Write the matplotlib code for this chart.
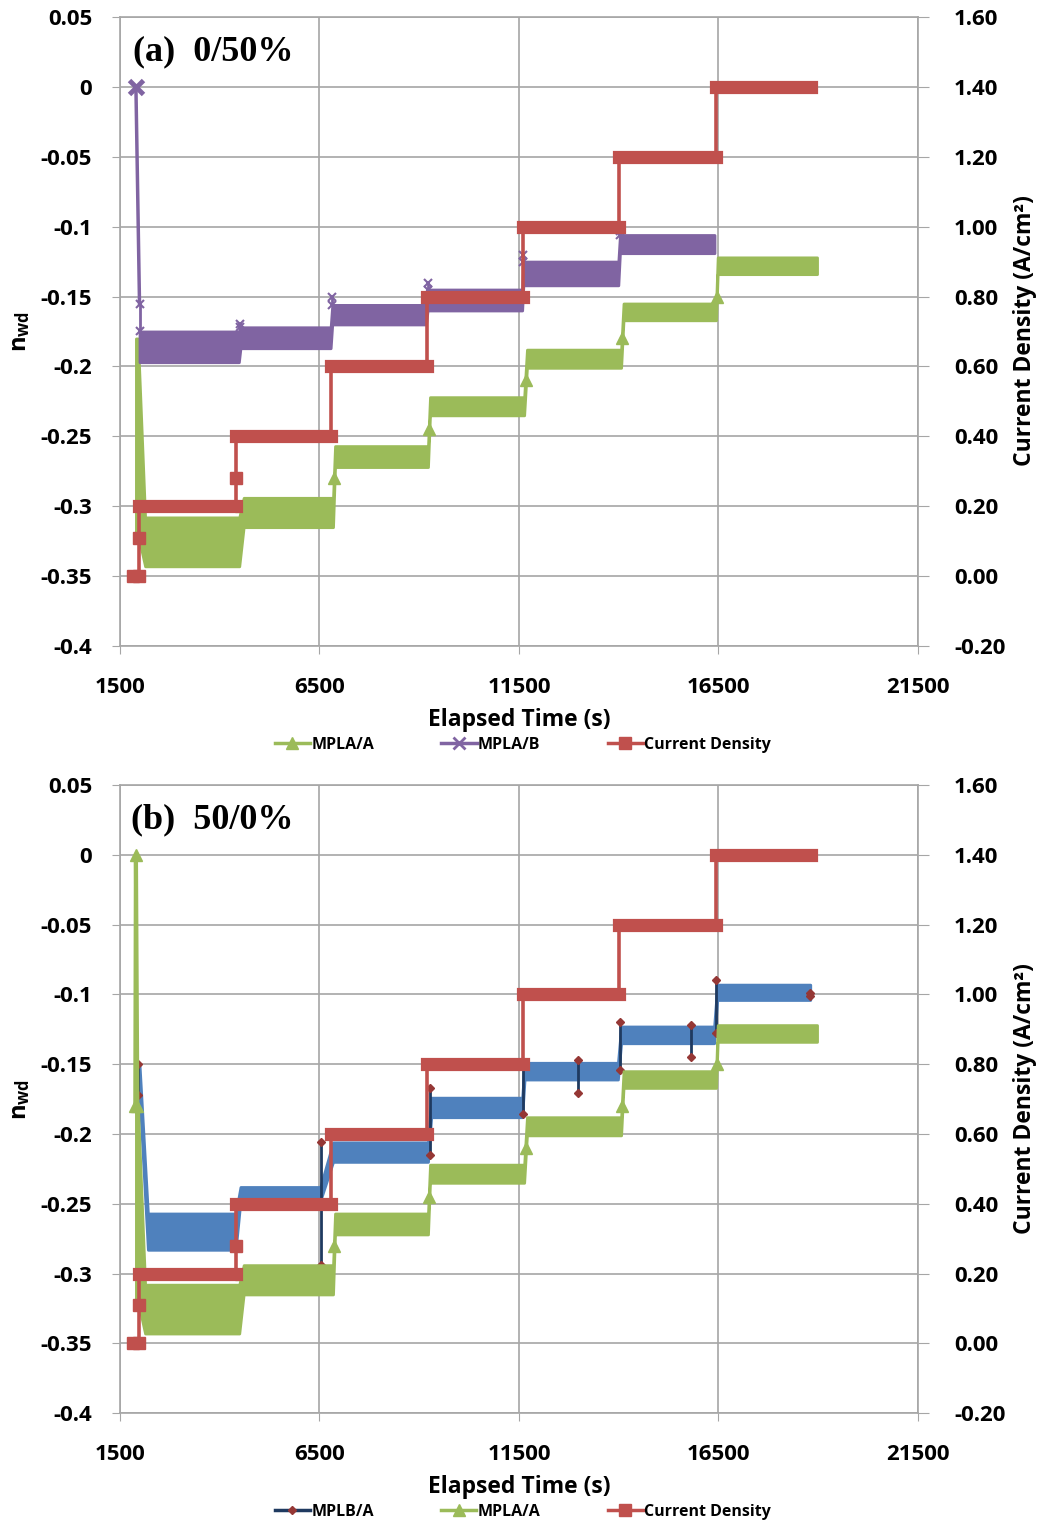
import matplotlib.pyplot as plt
from matplotlib.lines import Line2D

plt.rcParams['font.family'] = ['Open Sans', 'DejaVu Sans']
plt.rcParams['font.weight'] = 'bold'
plt.rcParams['mathtext.fontset'] = 'custom'
plt.rcParams['mathtext.rm'] = 'Open Sans:bold'

GREEN = '#9BBB59'
PURPLE = '#8064A2'
RED = '#C0504D'
BLUE = '#4F81BD'
NAVY = '#1F3A60'
DKRED = '#953735'
GRID = '#A6A6A6'

# current density (A/cm2), identical for both runs
cd_start_t = [1830, 1975, 1975]
cd_start_v = [0.0, 0.0, 0.11]
cd_t0 = [1975, 4410, 6790, 9190, 11600, 14010, 16440]
cd_t1 = [4410, 6790, 9190, 11600, 14010, 16440, 18820]
cd_level = [0.2, 0.4, 0.6, 0.8, 1.0, 1.2, 1.4]
cd_mid_t = [4410]
cd_mid_v = [0.28]

# MPLA/A, band of n_wd per current step (same in both runs)
mpla_a_t0 = [1900, 2130, 4600, 6890, 9270, 11700, 14120, 16480]
mpla_a_t1 = [1950, 4490, 6840, 9220, 11630, 14060, 16440, 18970]
mpla_a_lo = [-0.32, -0.343, -0.315, -0.272, -0.235, -0.201, -0.167, -0.134]
mpla_a_hi = [-0.18, -0.308, -0.294, -0.257, -0.222, -0.188, -0.155, -0.122]
mpla_a_mark_t = [4545, 6865, 9245, 11665, 14090, 16460]
mpla_a_mark_v = [-0.30, -0.28, -0.245, -0.21, -0.18, -0.15]
mpla_a_spike_t = [1885, 1900, 1935]
mpla_a_spike_v = [-0.18, 0.0, -0.18]

# MPLA/B (run a)
mpla_b_start_t = [1900, 1990]
mpla_b_start_v = [0.0, -0.155]
mpla_b_t0 = [1990, 4520, 6820, 9210, 11610, 14030]
mpla_b_t1 = [4480, 6780, 9170, 11580, 13990, 16400]
mpla_b_lo = [-0.197, -0.187, -0.170, -0.160, -0.142, -0.119]
mpla_b_hi = [-0.175, -0.172, -0.156, -0.145, -0.125, -0.106]
mpla_b_peak = [-0.155, -0.170, -0.150, -0.140, -0.120, -0.103]

# MPLB/A (run b)
mplb_a_t0 = [1950, 2200, 4520, 6840, 9300, 11640, 14060, 16470]
mplb_a_t1 = [1990, 4400, 6520, 9220, 11580, 13980, 16390, 18800]
mplb_a_lo = [-0.172, -0.283, -0.248, -0.220, -0.188, -0.161, -0.135, -0.104]
mplb_a_hi = [-0.150, -0.257, -0.238, -0.206, -0.174, -0.149, -0.123, -0.093]
mplb_a_spike_t = [1960, 6550, 9270, 11600, 12980, 14030, 15810, 16440, 18800]
mplb_a_spike_top = [-0.150, -0.206, -0.167, -0.150, -0.147, -0.120, -0.122, -0.090, -0.099]
mplb_a_spike_bot = [-0.172, -0.294, -0.215, -0.186, -0.171, -0.154, -0.145, -0.128, -0.101]

x_ticks = [1500, 6500, 11500, 16500, 21500]
y_ticks = [0.05, 0, -0.05, -0.1, -0.15, -0.2, -0.25, -0.3, -0.35, -0.4]
y_labels = ['0.05', '0', '-0.05', '-0.1', '-0.15', '-0.2', '-0.25', '-0.3', '-0.35', '-0.4']
y2_ticks = [1.6, 1.4, 1.2, 1.0, 0.8, 0.6, 0.4, 0.2, 0.0, -0.2]
y2_labels = ['1.60', '1.40', '1.20', '1.00', '0.80', '0.60', '0.40', '0.20', '0.00', '-0.20']


def band(ax, t0, t1, lo, hi, color):
    t, l, h = [], [], []
    for a, b, x, y in zip(t0, t1, lo, hi):
        t += [a, b]
        l += [x, x]
        h += [y, y]
    ax.fill_between(t, l, h, color=color, edgecolor=color, lw=2, zorder=3)


def setup_axes(ax):
    ax.set_xlim(1500, 21500)
    ax.set_ylim(-0.4, 0.05)
    ax.set_xticks(x_ticks)
    ax.set_yticks(y_ticks)
    ax.set_yticklabels(y_labels)
    ax.grid(True, color=GRID, lw=1.2)
    ax.set_axisbelow(True)
    for s in ax.spines.values():
        s.set_color(GRID)
        s.set_linewidth(1.2)
    ax.tick_params(axis='x', length=6, color=GRID, pad=16, labelsize=16)
    ax.tick_params(axis='y', length=6, color=GRID, pad=14, labelsize=16)
    ax2 = ax.twinx()
    ax2.set_ylim(-0.2, 1.6)
    ax2.set_yticks(y2_ticks)
    ax2.set_yticklabels(y2_labels)
    ax2.tick_params(axis='y', length=8, color=GRID, pad=18, labelsize=16)
    for s in ax2.spines.values():
        s.set_visible(False)
    return ax2


def draw_cd(ax2):
    t = list(cd_start_t)
    v = list(cd_start_v)
    for a, b, c in zip(cd_t0, cd_t1, cd_level):
        t += [a, b]
        v += [c, c]
    ax2.plot(t, v, color=RED, lw=2.6, zorder=4)
    for a, b, c in zip(cd_t0, cd_t1, cd_level):
        ax2.plot([a, b], [c, c], color=RED, lw=9.5, solid_capstyle='projecting', zorder=5)
    ax2.plot(cd_start_t, cd_start_v, 's', color=RED, ms=9, zorder=5)
    ax2.plot(cd_mid_t, cd_mid_v, 's', color=RED, ms=9, zorder=5)


def draw_mpla_a(ax, spike):
    band(ax, mpla_a_t0, mpla_a_t1, mpla_a_lo, mpla_a_hi, GREEN)
    ax.plot(mpla_a_mark_t, mpla_a_mark_v, '^', color=GREEN, ms=8, zorder=3)
    if spike:
        ax.plot(mpla_a_spike_t, mpla_a_spike_v, '-^', color=GREEN, lw=3, ms=9, zorder=3)


fig = plt.figure(figsize=(10.44, 15.25), dpi=100)

# ---- (a) 0/50%
ax = fig.add_axes([0.1149, 0.5764, 0.7644, 0.4125])
ax2 = setup_axes(ax)
draw_mpla_a(ax, False)
band(ax, mpla_b_t0, mpla_b_t1, mpla_b_lo, mpla_b_hi, PURPLE)
ax.plot(mpla_b_start_t, mpla_b_start_v, '-', color=PURPLE, lw=2.5, zorder=3)
ax.plot(mpla_b_start_t[:1], mpla_b_start_v[:1], 'x', color=PURPLE, ms=10, mew=3.5, zorder=3)
for a, h, p in zip(mpla_b_t0, mpla_b_hi, mpla_b_peak):
    ax.plot([a, a], [h, p], '-x', color=PURPLE, lw=2, ms=6, mew=1.5, zorder=3)
draw_cd(ax2)
ax.text(0.016, 0.944, '(a)  0/50%', transform=ax.transAxes, fontsize=26,
        family='Liberation Serif', weight='bold', va='center', ha='left')

h1 = [Line2D([], [], color=GREEN, marker='^', lw=2.5, ms=8),
      Line2D([], [], color=PURPLE, marker='x', lw=2.5, ms=8, mew=2),
      Line2D([], [], color=RED, marker='s', lw=2.5, ms=8)]
fig.legend(h1, ['MPLA/A', 'MPLA/B', 'Current Density'], loc='center',
           bbox_to_anchor=(0.501, 1 - 745 / 1525), ncol=3, frameon=False,
           fontsize=11.5, handlelength=2.2, handletextpad=0.1, columnspacing=4.2)

# ---- (b) 50/0%
bx = fig.add_axes([0.1149, 0.0734, 0.7644, 0.4118])
bx2 = setup_axes(bx)
band(bx, mplb_a_t0, mplb_a_t1, mplb_a_lo, mplb_a_hi, BLUE)
for a, top, bot in zip(mplb_a_spike_t, mplb_a_spike_top, mplb_a_spike_bot):
    bx.plot([a, a], [top, bot], '-D', color=NAVY, lw=2, ms=4, mfc=DKRED, mec=DKRED, zorder=3)
draw_mpla_a(bx, True)
draw_cd(bx2)
bx.text(0.014, 0.944, '(b)  50/0%', transform=bx.transAxes, fontsize=26,
        family='Liberation Serif', weight='bold', va='center', ha='left')

h2 = [Line2D([], [], color=NAVY, marker='D', lw=2.5, ms=4, mfc=DKRED, mec=DKRED),
      Line2D([], [], color=GREEN, marker='^', lw=2.5, ms=8),
      Line2D([], [], color=RED, marker='s', lw=2.5, ms=8)]
fig.legend(h2, ['MPLB/A', 'MPLA/A', 'Current Density'], loc='center',
           bbox_to_anchor=(0.501, 1 - 1512 / 1525), ncol=3, frameon=False,
           fontsize=11.5, handlelength=2.2, handletextpad=0.1, columnspacing=4.2)

# axis titles
for yc in [331, 1099]:
    fig.text(20 / 1044, 1 - yc / 1525, r'$\mathregular{n_{wd}}$', rotation=90,
             ha='center', va='center', fontsize=17)
    fig.text(1025 / 1044, 1 - yc / 1525, 'Current Density (A/cm²)', rotation=90,
             ha='center', va='center', fontsize=16.5)
for yc in [720, 1487]:
    fig.text(519 / 1044, 1 - yc / 1525, 'Elapsed Time (s)', ha='center', va='center',
             fontsize=16.5)

fig.savefig('out.png', dpi=100)
